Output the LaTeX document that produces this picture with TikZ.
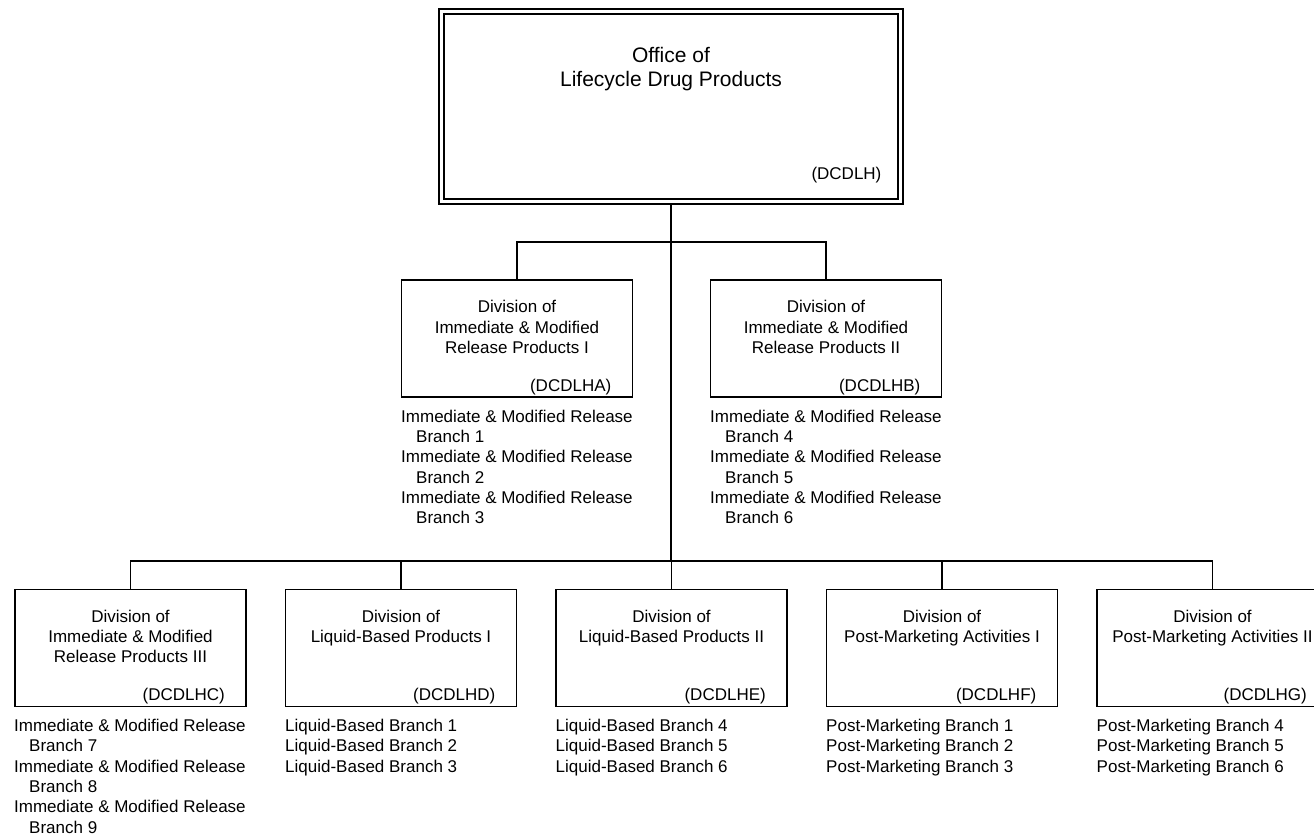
\documentclass[tikz,border=0pt]{standalone}
\usepackage{fontspec}
\setmainfont{Liberation Sans}
\begin{document}
\begin{tikzpicture}[x=1pt,y=-1pt]
\tikzset{
 divbox/.style={draw, line width=1.6pt, minimum width=231pt, minimum height=117pt, inner sep=0pt, outer sep=0pt},
 topbox/.style={draw, line width=1.5pt, double=white, double distance=3.5pt, minimum width=459pt, minimum height=190pt, inner sep=0pt, outer sep=3.25pt},
 titletext/.style={align=center, inner sep=0pt, anchor=north, font=\fontsize{17pt}{20.3pt}\selectfont},
 bigtitle/.style={align=center, inner sep=0pt, anchor=north, font=\fontsize{21pt}{24.5pt}\selectfont},
 codetext/.style={inner sep=0pt, anchor=base east, font=\fontsize{17pt}{20.3pt}\selectfont},
 listtext/.style={align=left, inner sep=0pt, anchor=north west, font=\fontsize{17pt}{20.3pt}\selectfont},
 conn/.style={line width=1.6pt},
}
\fill[white] (0,0) rectangle (1314,837);
\useasboundingbox (0,0) rectangle (1314,837);
\begin{scope}
\clip (0,0) rectangle (1314,837);
% top office
\node[topbox] (office) at (671,106.5) {};
\node[bigtitle] (officeT) at (671,46.7) {Office of\\Lifecycle Drug Products};
\node[codetext] (officeC) at (881.6,180) {(DCDLH)};
% junctions
\coordinate (j1) at (671,242);
\coordinate (j2) at (671,561);
% upper divisions
\node[divbox] (divA) at (517,338.5) {};
\node[divbox] (divB) at (826,338.5) {};
\node[titletext] (tA) at (517,300.3) {Division of\\Immediate \& Modified\\Release Products I};
\node[titletext] (tB) at (826,300.3) {Division of\\Immediate \& Modified\\Release Products II};
\node[codetext] (cA) at (611.5,391) {(DCDLHA)};
\node[codetext] (cB) at (920.5,391) {(DCDLHB)};
\node[listtext] (lA) at (401,409.6) {Immediate \& Modified Release\\\hspace*{15pt}Branch 1\\Immediate \& Modified Release\\\hspace*{15pt}Branch 2\\Immediate \& Modified Release\\\hspace*{15pt}Branch 3};
\node[listtext] (lB) at (710,409.6) {Immediate \& Modified Release\\\hspace*{15pt}Branch 4\\Immediate \& Modified Release\\\hspace*{15pt}Branch 5\\Immediate \& Modified Release\\\hspace*{15pt}Branch 6};
% lower divisions
\node[divbox] (divC) at (130.5,648) {};
\node[divbox] (divD) at (401,648) {};
\node[divbox] (divE) at (671.5,648) {};
\node[divbox] (divF) at (942,648) {};
\node[divbox] (divG) at (1212.5,648) {};
\node[titletext] (tC) at (130.5,609.8) {Division of\\Immediate \& Modified\\Release Products III};
\node[titletext] (tD) at (401,609.8) {Division of\\Liquid-Based Products I};
\node[titletext] (tE) at (671.5,609.8) {Division of\\Liquid-Based Products II};
\node[titletext] (tF) at (942,609.8) {Division of\\Post-Marketing Activities I};
\node[titletext] (tG) at (1212.5,609.8) {Division of\\Post-Marketing Activities II};
\node[codetext] (cC) at (225,700.5) {(DCDLHC)};
\node[codetext] (cD) at (495.5,700.5) {(DCDLHD)};
\node[codetext] (cE) at (766,700.5) {(DCDLHE)};
\node[codetext] (cF) at (1036.5,700.5) {(DCDLHF)};
\node[codetext] (cG) at (1307,700.5) {(DCDLHG)};
\node[listtext] (lC) at (14,719.1) {Immediate \& Modified Release\\\hspace*{15pt}Branch 7\\Immediate \& Modified Release\\\hspace*{15pt}Branch 8\\Immediate \& Modified Release\\\hspace*{15pt}Branch 9};
\node[listtext] (lD) at (285,719.1) {Liquid-Based Branch 1\\Liquid-Based Branch 2\\Liquid-Based Branch 3};
\node[listtext] (lE) at (555.5,719.1) {Liquid-Based Branch 4\\Liquid-Based Branch 5\\Liquid-Based Branch 6};
\node[listtext] (lF) at (826,719.1) {Post-Marketing Branch 1\\Post-Marketing Branch 2\\Post-Marketing Branch 3};
\node[listtext] (lG) at (1096.5,719.1) {Post-Marketing Branch 4\\Post-Marketing Branch 5\\Post-Marketing Branch 6};
% connectors
\draw[conn] (office.south) -- (j2);
\draw[conn] (divA.north) |- (j1) -| (divB.north);
\draw[conn] (divC.north) |- (j2) -| (divG.north);
\draw[conn] (divD.north) -- (divD.north |- j2);
\draw[conn] (divE.north) -- (divE.north |- j2);
\draw[conn] (divF.north) -- (divF.north |- j2);
\end{scope}
\end{tikzpicture}
\end{document}
